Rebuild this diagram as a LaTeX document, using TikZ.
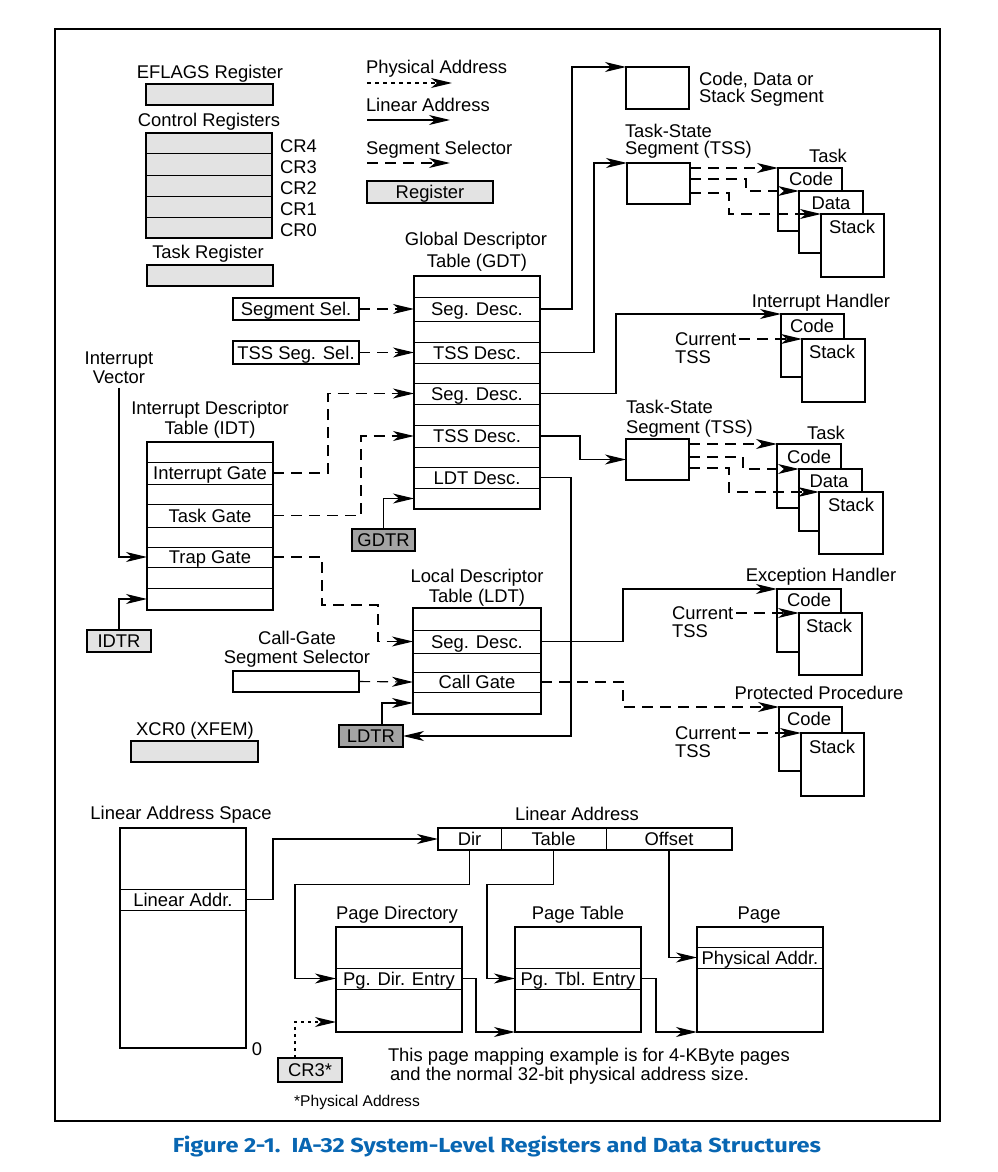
\documentclass[tikz,border=0pt]{standalone}
\usepackage{fontspec}
\setmainfont{Liberation Sans}
\newfontfamily\capfont{Fira Sans}
\usetikzlibrary{arrows.meta,calc}
\definecolor{regfill}{HTML}{E3E3E3}
\definecolor{dregfill}{HTML}{A3A3A3}
\definecolor{capblue}{HTML}{0866B2}
\newcommand\BX[7][]{\node[minimum width={(#5)-(#3)}, minimum height={(#6)-(#4)}, #1] (#2) at ({(#3+#5)/2},{(#4+#6)/2}) {#7};}
\begin{document}
\begin{tikzpicture}[x=1pt,y=-1pt,
  every node/.style={inner sep=0pt, outer sep=0pt, text height=13.2pt, text depth=0pt},
  font=\fontsize{18.4}{22}\selectfont,
  thk/.style={draw, line width=1.8pt},
  reg/.style={thk, fill=regfill},
  dreg/.style={thk, fill=dregfill},
  wbox/.style={thk, fill=white},
  row/.style={draw, line width=0.9pt},
  lin/.style={line width=1.1pt, -{Stealth[length=21pt,width=10pt,inset=6pt]}},
  seg/.style={lin, dash pattern=on 11pt off 7pt},
  phy/.style={lin, dash pattern=on 4pt off 4pt},
  phyb/.style={lin, dash pattern=on 3pt off 4pt}]
\useasboundingbox (0,0) rectangle (997,1172);
\draw[line width=1.8pt] (55,29) rectangle (940,1121);

% ---------- registers ----------
\node (eflt) at (210,72) {EFLAGS Register};
\BX[reg]{eflags}{146}{84}{273}{105}{}
\node (crt) at (209,120) {Control Registers};
\BX[reg]{crs}{146}{133}{272}{238}{}
\foreach \y in {153,175,196,217}{\draw[line width=0.9pt] (146,\y) -- (272,\y);}
\node[anchor=west] (cr4) at (280,146) {CR4};
\node[anchor=west] (cr3l) at (280,167) {CR3};
\node[anchor=west] (cr2) at (280,188) {CR2};
\node[anchor=west] (cr1) at (280,209) {CR1};
\node[anchor=west] (cr0) at (280,230) {CR0};
\node (trt) at (208,252) {Task Register};
\BX[reg]{tr}{147}{265}{273}{286}{}

% ---------- legend ----------
\node[anchor=west] (lgp) at (366,67) {Physical Address};
\coordinate (lgp1) at (367,83); \coordinate (lgp2) at (452,83);
\draw[phy] (lgp1) -- (lgp2);
\node[anchor=west] (lgl) at (366,105) {Linear Address};
\coordinate (lgl1) at (367,120); \coordinate (lgl2) at (450,120);
\draw[lin] (lgl1) -- (lgl2);
\node[anchor=west] (lgs) at (366,148) {Segment Selector};
\coordinate (lgs1) at (367,163); \coordinate (lgs2) at (450,163);
\draw[seg] (lgs1) -- (lgs2);
\BX[reg]{lgr}{367}{181}{493}{203}{Register}

% ---------- top right ----------
\BX[wbox]{cds}{626}{67}{689}{109}{}
\node[anchor=west] (cdst1) at (699,79) {Code, Data or};
\node[anchor=west] (cdst2) at (699,96) {Stack Segment};
\node[anchor=west] (ts1a) at (625,131) {Task-State};
\node[anchor=west] (ts1b) at (625,148) {Segment (TSS)};
\BX[wbox]{tss1}{627}{163}{690}{204}{}
\node (task1) at (828,156) {Task};
\BX[wbox]{t1c}{778}{168}{842}{231}{}
\BX[wbox]{t1d}{799}{191}{863}{253}{}
\BX[wbox]{t1s}{821}{214}{884}{277}{}
\node (t1cl) at (811,179) {Code};
\node (t1dl) at (831,203) {Data};
\node (t1sl) at (852,227) {Stack};

% ---------- GDT ----------
\node (gdtt1) at (476,239) {Global Descriptor};
\node (gdtt2) at (477,261) {Table (GDT)};
\BX[row]{g1}{414}{297}{540}{321}{Seg. Desc.}
\BX[row]{g2}{414}{342}{540}{363}{TSS Desc.}
\BX[row]{g3}{414}{383}{540}{404}{Seg. Desc.}
\BX[row]{g4}{414}{425}{540}{447}{TSS Desc.}
\BX[row]{g5}{414}{467}{540}{488}{LDT Desc.}
\BX{g6}{414}{488}{540}{509}{}
\BX[thk]{gdt}{414}{276}{540}{509}{}
\BX[thk]{ss}{233}{298}{359}{320}{Segment Sel.}
\BX[thk]{tsel}{233}{341}{359}{364}{TSS Seg. Sel.}
\BX[dreg]{gdtr}{352}{529}{415}{551}{GDTR}

% ---------- IDT ----------
\node (iv1) at (119,358) {Interrupt};
\node (iv2) at (119,377) {Vector};
\node (idtt1) at (210,408) {Interrupt Descriptor};
\node (idtt2) at (210,428) {Table (IDT)};
\BX[row]{i1}{147}{462}{273}{484}{Interrupt Gate}
\BX[row]{i2}{147}{504}{273}{527}{Task Gate}
\BX[row]{i3}{147}{547}{273}{567}{Trap Gate}
\BX[row]{i4}{147}{588}{273}{610}{}
\BX[thk]{idt}{147}{442}{273}{610}{}
\BX[reg]{idtr}{87}{630}{151}{652}{IDTR}

% ---------- LDT ----------
\node (ldtt1) at (477,576) {Local Descriptor};
\node (ldtt2) at (477,596) {Table (LDT)};
\BX[row]{l1}{413}{630}{541}{653}{Seg. Desc.}
\BX[row]{l2}{413}{672}{541}{692}{Call Gate}
\BX{l3}{413}{692}{541}{714}{}
\BX[thk]{ldt}{413}{608}{541}{714}{}
\BX[dreg]{ldtr}{339}{725}{403}{747}{LDTR}
\node (cgt1) at (297,638) {Call-Gate};
\node (cgt2) at (297,657) {Segment Selector};
\BX[thk]{cgs}{233}{671}{359}{692}{}
\node (xcrt) at (195,729) {XCR0 (XFEM)};
\BX[reg]{xcr}{131}{741}{258}{762}{}

% ---------- handlers ----------
\node (iht) at (821,301) {Interrupt Handler};
\BX[wbox]{ihc}{781}{314}{844}{377}{}
\BX[wbox]{ihs}{802}{339}{865}{402}{}
\node (ihcl) at (812,326) {Code};
\node (ihsl) at (832,352) {Stack};
\node[anchor=west] (ihcur) at (675,339) {Current};
\node[anchor=west] (ihtss) at (675,357) {TSS};

\node[anchor=west] (ts2a) at (626,407) {Task-State};
\node[anchor=west] (ts2b) at (626,427) {Segment (TSS)};
\BX[wbox]{tss2}{626}{439}{689}{480}{}
\node (task2) at (826,433) {Task};
\BX[wbox]{t2c}{777}{444}{841}{508}{}
\BX[wbox]{t2d}{799}{469}{862}{531}{}
\BX[wbox]{t2s}{819}{492}{883}{554}{}
\node (t2cl) at (809,457) {Code};
\node (t2dl) at (829,481) {Data};
\node (t2sl) at (851,505) {Stack};

\node (eht) at (821,575) {Exception Handler};
\BX[wbox]{ehc}{777}{589}{841}{652}{}
\BX[wbox]{ehs}{799}{613}{862}{675}{}
\node (ehcl) at (809,600) {Code};
\node (ehsl) at (829,626) {Stack};
\node[anchor=west] (ehcur) at (672,613) {Current};
\node[anchor=west] (ehtss) at (672,631) {TSS};

\node (ppt) at (819,693) {Protected Procedure};
\BX[wbox]{ppc}{779}{707}{842}{771}{}
\BX[wbox]{pps}{801}{733}{864}{796}{}
\node (ppcl) at (809,719) {Code};
\node (ppsl) at (832,747) {Stack};
\node[anchor=west] (ppcur) at (675,733) {Current};
\node[anchor=west] (pptss) at (675,751) {TSS};

% ---------- paging ----------
\node (last) at (181,813) {Linear Address Space};
\BX[row]{la1}{120}{889}{246}{910}{Linear Addr.}
\BX[thk]{las}{120}{828}{246}{1048}{}
\node (zero) at (257,1049) {0};
\node (lat) at (577,814) {Linear Address};
\BX[row]{ladir}{438}{828}{501}{850}{Dir}
\BX[row]{latab}{501}{828}{606}{850}{Table}
\BX[row]{laoff}{606}{828}{732}{850}{Offset}
\BX[thk]{labox}{438}{828}{732}{850}{}
\node (pdt) at (397,913) {Page Directory};
\BX[row]{pde}{336}{968}{462}{989}{Pg. Dir. Entry}
\BX[thk]{pd}{336}{927}{462}{1032}{}
\node (ptt) at (578,913) {Page Table};
\BX[row]{pte}{515}{968}{641}{989}{Pg. Tbl. Entry}
\BX[thk]{pt}{515}{927}{641}{1032}{}
\node (pgt) at (759,913) {Page};
\BX[row]{ppa}{697}{947}{823}{968}{Physical Addr.}
\BX[thk]{pg}{697}{927}{823}{1032}{}
\BX[reg]{cr3}{278}{1058}{342}{1082}{CR3*}
\node[font=\fontsize{15.6}{18}\selectfont] (pan) at (357,1100) {*Physical Address};
\node[anchor=west] (note1) at (388,1055) {This page mapping example is for 4-KByte pages};
\node[anchor=west] (note2) at (390,1074) {and the normal 32-bit physical address size.};

\node[anchor=base, text=capblue] (cap) at (497,1152) {\resizebox*{648pt}{21pt}{\capfont\bfseries Figure 2-1.\ \ IA-32 System-Level Registers and Data Structures}};

% ---------- connectors ----------
\draw[seg] (ss.east) -- (g1.west);
\draw[seg] (tsel.east) -- (g2.west);
\draw[seg] (i1.east) -| ($(g3.west)+(-86,0)$) -- (g3.west);
\draw[seg] (i2.east) -| ($(g4.west)+(-53,0)$) -- (g4.west);
\draw[lin] (gdtr.north) |- (g6.west);
\draw[lin] ($(iv2.south)+(0,4)$) |- (i3.west);
\draw[lin] (idtr.north) |- (i4.west);
\draw[seg] (i3.east) -| (322,605) -| ($(l1.west)+(-35,0)$) -- (l1.west);
\draw[seg] (cgs.east) -- (l2.west);
\draw[lin] ($(ldtr.north)+(11,0)$) |- (l3.west);
\draw[lin] (g5.east) -| ($(ldtr.east)+(168,0)$) -- (ldtr.east);
\draw[lin] (g1.east) -| ($(cds.north west)+(-54,0)$) -- (cds.north west);
\draw[lin] (g2.east) -| ($(tss1.north west)+(-33,0)$) -- (tss1.north west);
\draw[lin] (g3.east) -| ($(ihc.north west)+(-165,0)$) -- (ihc.north west);
\draw[lin] (g4.east) -| ($(tss2.west)+(-46,0)$) -- (tss2.west);
\draw[lin] (l1.east) -| ($(ehc.north west)+(-154,0)$) -- (ehc.north west);
\draw[seg] (l2.east) -| ($(ppc.north west)+(-156,0)$) -- (ppc.north west);

\draw[seg] (t1c.north west -| tss1.east) -- (t1c.north west);
\draw[seg] ($(tss1.north east)+(0,16)$) -| ($(t1d.north west)+(-53,0)$) -- (t1d.north west);
\draw[seg] ($(tss1.north east)+(0,30)$) -| ($(t1s.north west)+(-92,0)$) -- (t1s.north west);
\draw[seg] (t2c.north west -| tss2.east) -- (t2c.north west);
\draw[seg] ($(tss2.north east)+(0,18)$) -| ($(t2d.north west)+(-56,0)$) -- (t2d.north west);
\draw[seg] ($(tss2.north east)+(0,29)$) -| ($(t2s.north west)+(-90,0)$) -- (t2s.north west);

\draw[seg] ($(ihcur.east)+(3,0)$) -- (ihs.north west);
\draw[seg] ($(ehcur.east)+(3,0)$) -- (ehs.north west);
\draw[seg] ($(ppcur.east)+(3,0)$) -- (pps.north west);

\draw[lin] (la1.east) -| ($(ladir.west)+(-165,0)$) -- (ladir.west);
\draw[lin] (ladir.south) |- ($(pde.west)+(-41,-94)$) |- (pde.west);
\draw[lin] (latab.south) |- ($(pte.west)+(-28,-94)$) |- (pte.west);
\draw[lin] (laoff.south) |- (ppa.west);
\draw[lin] (pde.east) -| ($(pt.south west)+(-39,0)$) -- (pt.south west);
\draw[lin] (pte.east) -| ($(pg.south west)+(-41,0)$) -- (pg.south west);
\draw[phyb] ($(cr3.north)+(-15,0)$) |- ($(pd.south west)+(0,-10)$);
\end{tikzpicture}
\end{document}
